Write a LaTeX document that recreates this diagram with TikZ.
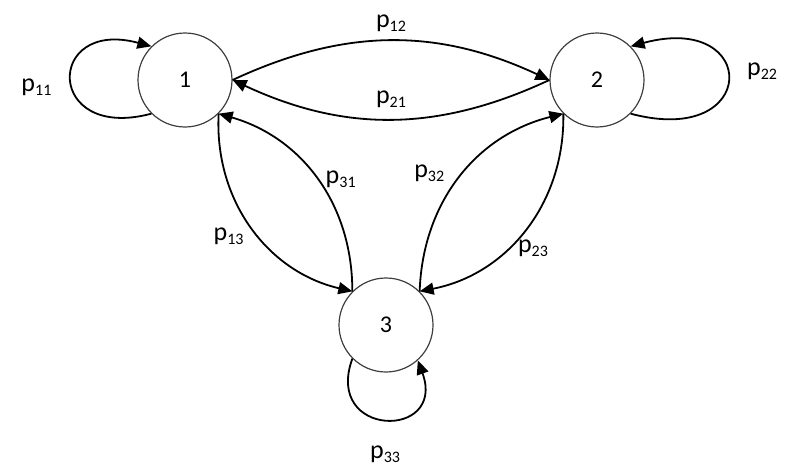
\documentclass[tikz,border=0pt]{standalone}
\usepackage{fontspec}
\setmainfont{Carlito}
\usetikzlibrary{arrows.meta}
\newcommand{\plab}[1]{p\raisebox{-4pt}{\fontsize{16}{18}\selectfont #1}}

\begin{document}
\begin{tikzpicture}[x=1pt,y=1pt,
  state/.style={circle,draw=black!75,line width=1.2pt,minimum size=94pt,inner sep=0pt,font=\fontsize{24}{28}\selectfont},
  trans/.style={line width=1.8pt,-{Triangle[length=14pt,width=12pt]}},
  prob/.style={font=\fontsize{26}{30}\selectfont,inner sep=2pt}]

\useasboundingbox (0,0) rectangle (788,-466);

\node[state] (n1) at (185,-80) {1};
\node[state] (n2) at (597,-80) {2};
\node[state] (n3) at (386,-325) {3};

\draw[trans] (n1.0) to[bend left=25] node[prob,pos=0.5,above=6pt] {\plab{12}} (n2.180);
\draw[trans] (n2.180) to[bend left=25] node[prob,pos=0.5,above=9pt] {\plab{21}} (n1.0);

\draw[trans] (n1.-45) to[bend right=40] node[prob,pos=0.55,left=13pt] {\plab{13}} (n3.135);
\draw[trans] (n3.135) to[bend right=37] node[prob,pos=0.5,right=6pt] {\plab{31}} (n1.-45);
\draw[trans] (n2.225) to[bend left=40] node[prob,pos=0.55,below right=-2pt] {\plab{23}} (n3.45);
\draw[trans] (n3.45) to[bend left=37] node[prob,pos=0.52,left=16pt] {\plab{32}} (n2.225);

\draw[trans] (n1.225) to[out=195,in=165,looseness=4.2] node[prob,pos=0.45,left=18pt] {\plab{11}} (n1.135);
\draw[trans] (n2.-45) to[out=-15,in=15,looseness=5.1] node[prob,pos=0.56,right=18pt] {\plab{22}} (n2.45);
\draw[trans] (n3.225) to[out=-110,in=-70,looseness=3.3] node[prob,pos=0.5,below=24pt] {\plab{33}} (n3.-48);

\end{tikzpicture}
\end{document}
